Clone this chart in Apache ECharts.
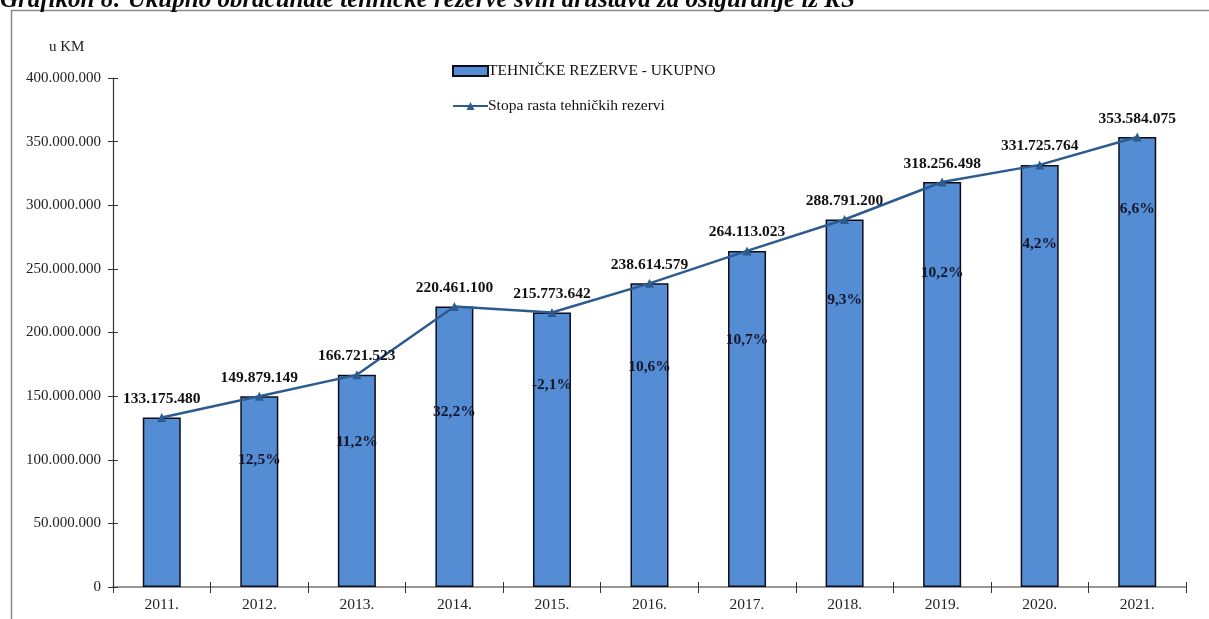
<!DOCTYPE html>
<html>
<head>
<meta charset="utf-8">
<script src="https://cdn.jsdelivr.net/npm/echarts@6/dist/echarts.min.js"></script>
<style>
html,body{margin:0;padding:0;background:#fff;}
#c{width:1209px;height:619px;}
</style>
</head>
<body>
<div id="c"></div>
<script>
// ---- data ----
var years = ['2011.', '2012.', '2013.', '2014.', '2015.', '2016.', '2017.', '2018.', '2019.', '2020.', '2021.'];
var reserves = [133175480, 149879149, 166721523, 220461100, 215773642, 238614579, 264113023, 288791200, 318256498, 331725764, 353584075];
var growthRates = [null, '12,5%', '11,2%', '32,2%', '-2,1%', '10,6%', '10,7%', '9,3%', '10,2%', '4,2%', '6,6%'];
var yTicks = [0, 50000000, 100000000, 150000000, 200000000, 250000000, 300000000, 350000000, 400000000];
var seriesNames = ['TEHNIČKE REZERVE - UKUPNO', 'Stopa rasta tehničkih rezervi'];
var titleText = 'Grafikon 8: Ukupno obračunate tehničke rezerve svih društava za osiguranje iz RS';
var unitText = 'u KM';

// ---- layout (label placement inside each bar, fraction of bar height from top) ----
var rateLabelAt = [null, '33.5%', '31.5%', '37.5%', '26.5%', '27.5%', '26.5%', '22%', '22.5%', '18.8%', '16%'];

function fmt(v) {
  return String(v).replace(/\B(?=(\d{3})+(?!\d))/g, '.');
}

var serif = '"Liberation Serif", "DejaVu Serif", serif';

var barData = reserves.map(function (v, i) {
  var item = { value: v };
  if (growthRates[i]) {
    item.label = {
      show: true,
      position: ['50%', rateLabelAt[i]],
      align: 'center',
      verticalAlign: 'middle',
      formatter: growthRates[i],
      fontFamily: serif,
      fontWeight: 'bold',
      fontSize: 15.5,
      color: '#15152a'
    };
  }
  return item;
});

var yMin = yTicks[0], yMax = yTicks[yTicks.length - 1], yStep = yTicks[1] - yTicks[0];

var chart = echarts.init(document.getElementById('c'));
chart.setOption({
  backgroundColor: '#fff',
  animation: false,
  graphic: [
    { type: 'rect', shape: { x: 11.5, y: 10.5, width: 1300, height: 700 }, style: { fill: 'none', stroke: '#8a8a8a', lineWidth: 1.5 }, silent: true },
    { type: 'text', left: 0, top: -12, style: { text: titleText, font: 'italic bold 25px ' + serif, fill: '#0a0a0a' } },
    { type: 'text', left: 49, top: 40, style: { text: unitText, font: '15px ' + serif, fill: '#222' } }
  ],
  legend: {
    orient: 'vertical',
    left: 447,
    top: 58,
    itemGap: 19,
    itemWidth: 35,
    itemHeight: 10,
    textStyle: { fontFamily: serif, fontSize: 15.5, color: '#111', padding: [0, 0, 0, -5] },
    data: [
      { name: seriesNames[0], icon: 'rect' },
      { name: seriesNames[1] }
    ]
  },
  grid: { left: 113, right: 23, top: 78, bottom: 32 },
  xAxis: [
    {
      type: 'category',
      data: years,
      axisLine: { lineStyle: { color: '#777', width: 1.5 } },
      axisTick: { show: true, length: 6, lineStyle: { color: '#333', width: 1 } },
      axisLabel: { fontFamily: serif, fontSize: 15.5, color: '#222', margin: 10 }
    },
    {
      type: 'category',
      data: years,
      position: 'bottom',
      axisLine: { show: false },
      axisTick: { show: true, inside: true, length: 5, lineStyle: { color: '#333', width: 1 } },
      axisLabel: { show: false }
    }
  ],
  yAxis: [
    {
      type: 'value',
      min: yMin,
      max: yMax,
      interval: yStep,
      axisLine: { show: true, lineStyle: { color: '#333', width: 1.2 } },
      axisTick: { show: true, length: 5, lineStyle: { color: '#333' } },
      splitLine: { show: false },
      axisLabel: { fontFamily: serif, fontSize: 15, color: '#222', margin: 12, formatter: fmt }
    },
    {
      type: 'value',
      position: 'left',
      min: yMin,
      max: yMax,
      interval: yStep,
      axisLine: { show: false },
      axisTick: { show: true, inside: true, length: 5, lineStyle: { color: '#333' } },
      splitLine: { show: false },
      axisLabel: { show: false }
    }
  ],
  series: [
    {
      name: seriesNames[0],
      type: 'bar',
      data: barData,
      barWidth: 38,
      itemStyle: { color: '#548DD4', borderColor: '#0d0d1a', borderWidth: 1.5 },
      z: 2
    },
    {
      name: seriesNames[1],
      type: 'line',
      data: reserves,
      symbol: 'triangle',
      symbolSize: 9,
      lineStyle: { color: '#2C5B8F', width: 2.5 },
      itemStyle: { color: '#2C5B8F' },
      label: {
        show: true,
        position: 'top',
        distance: 6,
        formatter: function (p) { return fmt(p.value); },
        fontFamily: serif,
        fontWeight: 'bold',
        fontSize: 15.5,
        color: '#111'
      },
      z: 3
    }
  ]
});
</script>
</body>
</html>
